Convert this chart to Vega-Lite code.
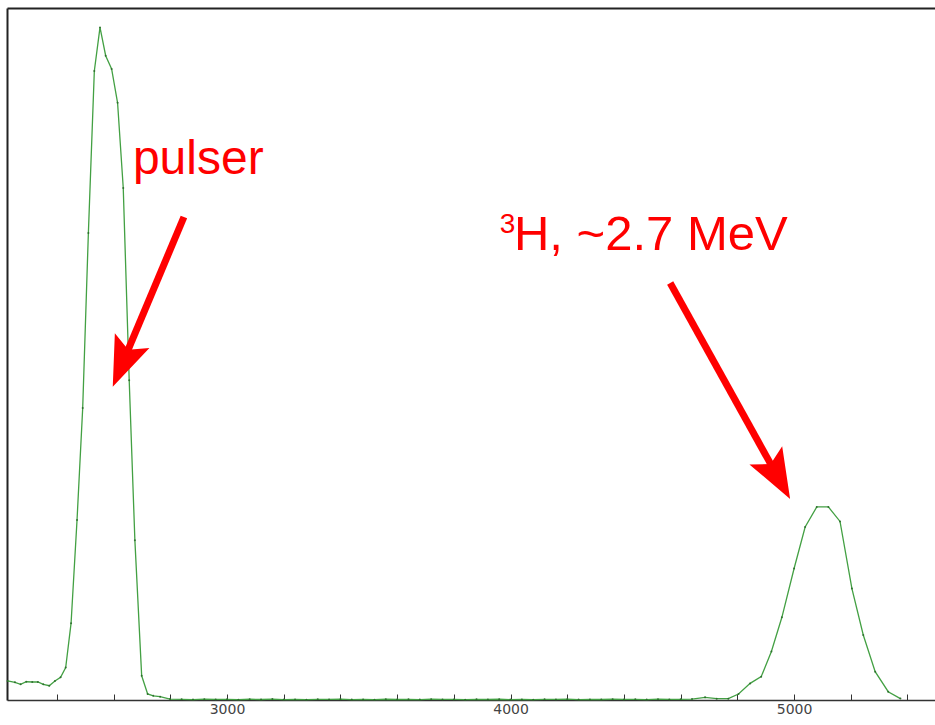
{
  "$schema": "https://vega.github.io/schema/vega-lite/v6.json",
  "width": 928,
  "height": 692,
  "autosize": "none",
  "padding": {"left": 7, "top": 8, "right": 0, "bottom": 25},
  "background": "white",
  "config": {"view": {"stroke": null}},
  "datasets": {
    "spectrum": [
      {"x": 2226, "y": 27.5}, {"x": 2252, "y": 25.6}, {"x": 2272, "y": 22.7}, {"x": 2292, "y": 26.4},
      {"x": 2313, "y": 26}, {"x": 2333, "y": 26}, {"x": 2352, "y": 22.7}, {"x": 2373, "y": 20.7},
      {"x": 2393, "y": 27.5}, {"x": 2413, "y": 32.8}, {"x": 2431, "y": 47}, {"x": 2450, "y": 111},
      {"x": 2471, "y": 260}, {"x": 2491, "y": 422}, {"x": 2511, "y": 675}, {"x": 2532, "y": 909},
      {"x": 2552, "y": 972}, {"x": 2572, "y": 931}, {"x": 2593, "y": 912}, {"x": 2614, "y": 863},
      {"x": 2634, "y": 740}, {"x": 2655, "y": 462}, {"x": 2675, "y": 231}, {"x": 2699, "y": 35},
      {"x": 2720, "y": 8.7}, {"x": 2740, "y": 6}, {"x": 2764, "y": 4.8}, {"x": 2799, "y": 1.4},
      {"x": 2840, "y": 1}, {"x": 2880, "y": 0.6}, {"x": 2920, "y": 1.2}, {"x": 2960, "y": 0.8},
      {"x": 3000, "y": 1}, {"x": 3040, "y": 0.5}, {"x": 3080, "y": 1.1}, {"x": 3120, "y": 0.7},
      {"x": 3160, "y": 1.3}, {"x": 3200, "y": 0.6}, {"x": 3240, "y": 0.9}, {"x": 3280, "y": 0.5},
      {"x": 3320, "y": 1}, {"x": 3360, "y": 0.8}, {"x": 3400, "y": 1.2}, {"x": 3440, "y": 0.6},
      {"x": 3480, "y": 0.9}, {"x": 3520, "y": 0.5}, {"x": 3560, "y": 1.1}, {"x": 3600, "y": 0.7},
      {"x": 3640, "y": 1}, {"x": 3680, "y": 0.6}, {"x": 3720, "y": 1.2}, {"x": 3760, "y": 0.8},
      {"x": 3800, "y": 0.9}, {"x": 3840, "y": 0.5}, {"x": 3880, "y": 1}, {"x": 3920, "y": 0.7},
      {"x": 3960, "y": 1.1}, {"x": 4000, "y": 0.6}, {"x": 4040, "y": 0.9}, {"x": 4080, "y": 0.5},
      {"x": 4120, "y": 1}, {"x": 4160, "y": 0.8}, {"x": 4200, "y": 1.2}, {"x": 4240, "y": 0.6},
      {"x": 4280, "y": 0.9}, {"x": 4320, "y": 0.7}, {"x": 4360, "y": 1.1}, {"x": 4400, "y": 0.8},
      {"x": 4440, "y": 1}, {"x": 4480, "y": 0.6}, {"x": 4520, "y": 1.2}, {"x": 4560, "y": 0.9},
      {"x": 4600, "y": 1}, {"x": 4640, "y": 1.3}, {"x": 4686, "y": 3.9}, {"x": 4727, "y": 1.9},
      {"x": 4768, "y": 1.9}, {"x": 4804, "y": 8.7}, {"x": 4845, "y": 24}, {"x": 4884, "y": 33.7},
      {"x": 4920, "y": 70}, {"x": 4957, "y": 119.5}, {"x": 5000, "y": 190}, {"x": 5039, "y": 250},
      {"x": 5080, "y": 279}, {"x": 5121, "y": 279}, {"x": 5162, "y": 258}, {"x": 5204, "y": 161},
      {"x": 5244, "y": 94}, {"x": 5286, "y": 41}, {"x": 5332, "y": 12}, {"x": 5375, "y": 2}
    ],
    "arrows": [
      {"name": "pulser", "x": 2848, "y": 698, "x2": 2644, "y2": 499, "tipx": 2597, "tipy": 452.7},
      {"name": "tritium", "x": 4563, "y": 602.6, "x2": 4926, "y2": 334.7, "tipx": 4986, "tipy": 290.5}
    ],
    "labels": [
      {"name": "pulser", "x": 2668, "y": 760, "label": "pulser"},
      {"name": "main", "x": 4012, "y": 650, "label": "H, ~2.7 MeV"},
      {"name": "sup", "x": 3962, "y": 675, "label": "3"}
    ]
  },
  "layer": [
    {
      "data": {"name": "spectrum"},
      "mark": {"type": "line", "color": "#43a043", "strokeWidth": 1.3},
      "encoding": {
        "x": {
          "field": "x", "type": "quantitative",
          "scale": {"domain": [2224, 5497], "nice": false, "zero": false},
          "axis": {
            "orient": "bottom", "title": null, "grid": false,
            "values": [2400, 2600, 2800, 3000, 3200, 3400, 3600, 3800, 4000, 4200, 4400, 4600, 4800, 5000, 5200, 5400],
            "labelExpr": "datum.value % 1000 == 0 ? format(datum.value, 'd') : ''",
            "tickSize": -6, "tickColor": "#333", "tickWidth": 1,
            "domainColor": "#333", "domainWidth": 1.5,
            "labelFont": "DejaVu Sans", "labelFontSize": 14, "labelColor": "#444",
            "labelPadding": 8, "labelFlush": false, "labelOverlap": false
          }
        },
        "y": {
          "field": "y", "type": "quantitative",
          "scale": {"domain": [0, 1000], "nice": false},
          "axis": {"orient": "left", "title": null, "labels": false, "ticks": false, "grid": false, "domainColor": "#222", "domainWidth": 2}
        }
      }
    },
    {
      "data": {"name": "spectrum"},
      "mark": {"type": "point", "filled": true, "size": 4, "color": "#2a6a2a", "opacity": 0.9},
      "encoding": {
        "x": {
          "field": "x", "type": "quantitative",
          "axis": {"orient": "top", "title": null, "labels": false, "ticks": false, "grid": false, "domainColor": "#222", "domainWidth": 2}
        },
        "y": {"field": "y", "type": "quantitative"}
      }
    },
    {
      "data": {"name": "arrows"},
      "mark": {"type": "rule", "color": "#ff0000", "strokeWidth": 7, "strokeCap": "butt"},
      "encoding": {
        "x": {"field": "x", "type": "quantitative", "axis": null},
        "y": {"field": "y", "type": "quantitative"},
        "x2": {"field": "x2"},
        "y2": {"field": "y2"}
      }
    },
    {
      "data": {"name": "arrows"},
      "transform": [{"filter": "datum.name == 'pulser'"}],
      "mark": {"type": "point", "shape": "M0,0 L-2,-0.75 L-1.6,0 L-2,0.75 Z", "size": 2500, "angle": 112.8, "filled": true, "color": "#ff0000", "opacity": 1, "strokeWidth": 0},
      "encoding": {
        "x": {"field": "tipx", "type": "quantitative", "axis": null},
        "y": {"field": "tipy", "type": "quantitative"}
      }
    },
    {
      "data": {"name": "arrows"},
      "transform": [{"filter": "datum.name == 'tritium'"}],
      "mark": {"type": "point", "shape": "M0,0 L-2,-0.75 L-1.6,0 L-2,0.75 Z", "size": 2500, "angle": 60.9, "filled": true, "color": "#ff0000", "opacity": 1, "strokeWidth": 0},
      "encoding": {
        "x": {"field": "tipx", "type": "quantitative", "axis": null},
        "y": {"field": "tipy", "type": "quantitative"}
      }
    },
    {
      "data": {"name": "labels"},
      "transform": [{"filter": "datum.name == 'pulser'"}],
      "mark": {"type": "text", "font": "Liberation Sans", "fontSize": 48, "color": "#ff0000", "align": "left", "baseline": "alphabetic"},
      "encoding": {
        "x": {"field": "x", "type": "quantitative", "axis": null},
        "y": {"field": "y", "type": "quantitative"},
        "text": {"field": "label"}
      }
    },
    {
      "data": {"name": "labels"},
      "transform": [{"filter": "datum.name == 'main'"}],
      "mark": {"type": "text", "font": "Liberation Sans", "fontSize": 49, "color": "#ff0000", "align": "left", "baseline": "alphabetic"},
      "encoding": {
        "x": {"field": "x", "type": "quantitative", "axis": null},
        "y": {"field": "y", "type": "quantitative"},
        "text": {"field": "label"}
      }
    },
    {
      "data": {"name": "labels"},
      "transform": [{"filter": "datum.name == 'sup'"}],
      "mark": {"type": "text", "font": "Liberation Sans", "fontSize": 28, "color": "#ff0000", "align": "left", "baseline": "alphabetic"},
      "encoding": {
        "x": {"field": "x", "type": "quantitative", "axis": null},
        "y": {"field": "y", "type": "quantitative"},
        "text": {"field": "label"}
      }
    }
  ],
  "resolve": {"axis": {"x": "independent"}}
}
